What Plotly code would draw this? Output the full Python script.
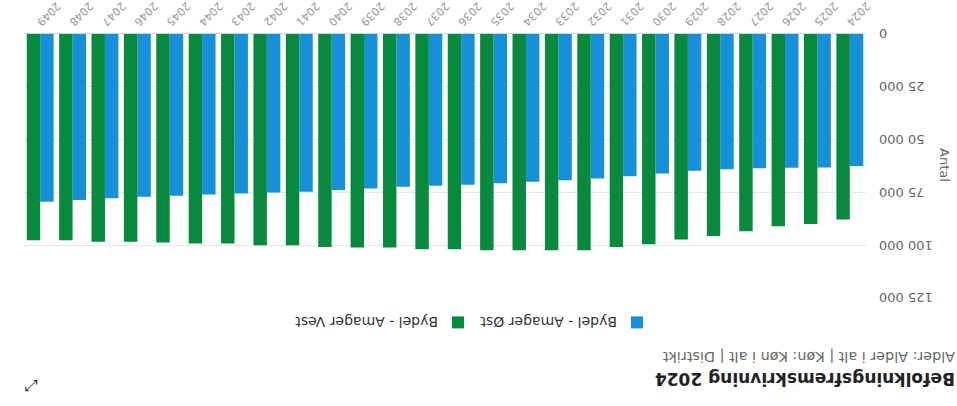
import plotly.graph_objects as go

years = [str(y) for y in range(2024, 2050)]
amager_oest = [62500, 63200, 63300, 63600, 64000, 64700, 66000, 67300, 68400, 69200,
               70000, 70700, 71400, 71900, 72300, 73100, 73900, 74700, 75000, 75500,
               76000, 76600, 77100, 77800, 78600, 79400]
amager_vest = [87800, 90000, 91000, 93400, 95700, 97300, 99500, 100800, 102400, 102400,
               102400, 102400, 101900, 101900, 101100, 101100, 100800, 100000, 100000, 99200,
               99200, 98700, 98400, 98400, 97600, 97600]
y_ticks = [0, 25000, 50000, 75000, 100000, 125000]

title = "Befolkningsfremskrivning 2024"
subtitle = "Alder: Alder i alt | Køn: Køn i alt | Distrikt"

FONT = "DejaVu Sans"
W, H = 957, 406
ML, MR, MT, MB = 91, 24, 108, 34
PW, PH = W - ML - MR, H - MT - MB

def px(x):
    return (x - ML) / PW

def py(y):
    return (H - MB - y) / PH

fig = go.Figure()
fig.add_trace(go.Bar(name="Bydel - Amager Øst", x=years, y=amager_oest, legend="legend",
                     marker=dict(color="#1690d8", line=dict(width=0))))
fig.add_trace(go.Bar(name="Bydel - Amager Vest", x=years, y=amager_vest, legend="legend2",
                     marker=dict(color="#078a3d", line=dict(width=0))))

leg_common = dict(orientation="h", xanchor="left", yanchor="middle",
                  font=dict(size=14, color="#333333"), itemclick=False,
                  bgcolor="rgba(0,0,0,0)")

fig.update_layout(
    width=W, height=H,
    margin=dict(l=ML, r=MR, t=MT, b=MB, autoexpand=False),
    paper_bgcolor="white", plot_bgcolor="white",
    barmode="group", bargap=0.17, bargroupgap=0,
    separators=", ",
    font=dict(family=FONT, size=12, color="#333333"),
    showlegend=True,
    legend=dict(x=px(300), y=py(84), **leg_common),
    legend2=dict(x=px(479), y=py(84), **leg_common),
    xaxis=dict(type="category", tickangle=-45, tickfont=dict(size=11, color="#999999"),
               showgrid=False, showline=True, linecolor="#ccd6eb", ticks="",
               automargin=False),
    yaxis=dict(range=[0, 125000], tickvals=y_ticks, tickformat=",d",
               tickfont=dict(size=13, color="#666666"), gridcolor="#e6e6e6",
               zeroline=False, showline=False, ticks="", ticklabelstandoff=12,
               automargin=False),
    annotations=[
        dict(text="<b>" + title + "</b>", x=px(0), y=py(27), xref="paper", yref="paper",
             xanchor="left", yanchor="middle", showarrow=False,
             font=dict(family=FONT, size=17, color="#222222")),
        dict(text=subtitle, x=px(0), y=py(49), xref="paper", yref="paper",
             xanchor="left", yanchor="middle", showarrow=False,
             font=dict(family=FONT, size=14.4, color="#666666")),
        dict(text="Antal", x=px(12), y=py(241), xref="paper", yref="paper",
             xanchor="center", yanchor="middle", showarrow=False, textangle=-90,
             font=dict(family=FONT, size=13, color="#666666")),
        dict(text="⤢", x=px(925), y=py(21), xref="paper", yref="paper",
             xanchor="center", yanchor="middle", showarrow=False,
             font=dict(family="DejaVu Sans", size=16, color="#333333")),
    ],
)

post = ("document.body.style.margin='0';"
        "var d=document.getElementById('{plot_id}');"
        "d.style.transformOrigin='50% 50%';"
        "d.style.transform='rotate(180deg)';")
fig.write_html("out.html", config={"displayModeBar": False, "responsive": False},
               post_script=post)
